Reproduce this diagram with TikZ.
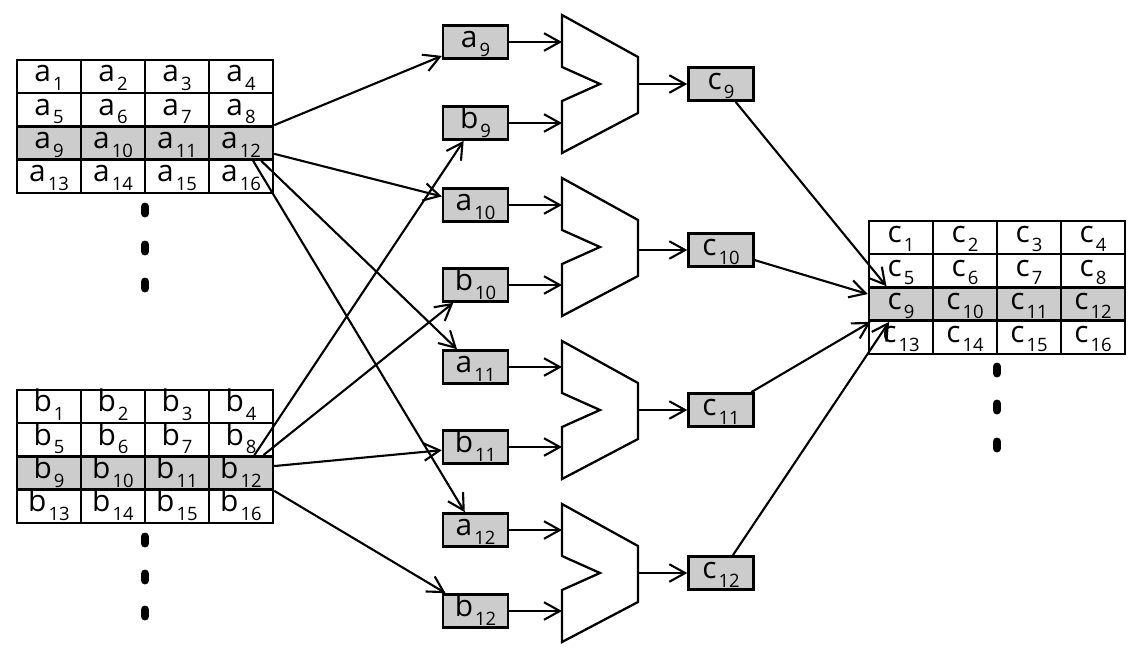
\documentclass[tikz,border=0pt]{standalone}
\usepackage{fontspec}
\setmainfont{Open Sans}
\usepackage{tikz}
\usetikzlibrary{arrows.meta}
\definecolor{cellgray}{RGB}{204,204,204}
\newcommand{\idx}[2]{#1\kern1.2pt\raisebox{-5pt}{\fontsize{10.5}{10.5}\selectfont #2}}

\begin{document}
\begin{tikzpicture}[
            x=0.02cm, y=-0.02cm,
            cell/.style={rectangle, draw=black, line width=1.4pt, minimum width=1.28cm,
                         minimum height=0.665cm, inner sep=0pt, text height=11pt, text depth=5pt,
                         font=\fontsize{17}{17}\selectfont},
            reg/.style={cell, fill=cellgray, minimum width=1.3cm},
            arrow/.style={-{Straight Barb[length=9pt,width=10pt]}, line width=1.2pt},
            mux/.style={draw=black, line width=1.3pt, fill=white, line join=miter},
            vdots/.style={line width=4.5pt, line cap=round}
        ]
            \useasboundingbox (0,0) rectangle (1142,660);

            % matrices A, B, C
            \foreach \m/\x/\y in {a/49/76.5, b/49/406.5, c/901/237.5}{
                \foreach \r/\shade in {0/white, 1/white, 2/cellgray, 3/white}{
                    \foreach \c in {1,...,4}{
                        \pgfmathtruncatemacro{\n}{4*\r+\c}
                        \node[cell, fill=\shade] (m\m\n) at ({\x+64*(\c-1)}, {\y+33.25*\r}) {\idx{\m}{\n}};
                    }
                }
            }

            % continuation marks
            \foreach \y in {210,248,285} \draw[vdots] (145,{\y-3.5}) -- (145,{\y+3.5});
            \foreach \y in {540,577,613} \draw[vdots] (145,{\y-3.5}) -- (145,{\y+3.5});
            \foreach \y in {370,407,445} \draw[vdots] (997,{\y-3.5}) -- (997,{\y+3.5});

            % operand registers
            \node[reg] (ra9) at (475.5,42) {\idx{a}{9}};
            \node[reg] (rb9) at (475.5,123) {\idx{b}{9}};
            \node[reg] (ra10) at (475.5,205) {\idx{a}{10}};
            \node[reg] (rb10) at (475.5,285) {\idx{b}{10}};
            \node[reg] (ra11) at (475.5,367) {\idx{a}{11}};
            \node[reg] (rb11) at (475.5,447) {\idx{b}{11}};
            \node[reg] (ra12) at (475.5,530) {\idx{a}{12}};
            \node[reg] (rb12) at (475.5,611) {\idx{b}{12}};

            % result registers
            \node[reg] (rc9) at (721,84) {\idx{c}{9}};
            \node[reg] (rc10) at (721,250) {\idx{c}{10}};
            \node[reg] (rc11) at (721,410) {\idx{c}{11}};
            \node[reg] (rc12) at (721,573) {\idx{c}{12}};

            % adders
            \coordinate (mux9) at (562,84);
            \coordinate (mux10) at (562,247);
            \coordinate (mux11) at (562,410);
            \coordinate (mux12) at (562,573);
            \coordinate (out9) at (638,84);
            \coordinate (out10) at (638,250);
            \coordinate (out11) at (638,410);
            \coordinate (out12) at (638,573);
            \foreach \k in {9,10,11,12}{
                \draw[mux] (mux\k) ++(0,-69) -- ++(76,42) -- ++(0,56) -- ++(-76,40)
                    -- ++(0,-52) -- ++(38,-17) -- ++(-38,-17) -- cycle;
            }

            % loads from A
            \draw[arrow] (ma12.north east) -- (ra9);
            \draw[arrow] ([yshift=4pt]ma12.south east) -- (ra10);
            \draw[arrow] ([xshift=-7.4pt]ma12.south east) -- (ra11);
            \draw[arrow] ([xshift=-12pt]ma12.south east) -- (ra12);

            % loads from B
            \draw[arrow] ([xshift=-11.3pt]mb12.north east) -- (rb9);
            \draw[arrow] ([xshift=-6.2pt]mb12.north east) -- (rb10);
            \draw[arrow] ([yshift=-6.2pt]mb12.north east) -- (rb11);
            \draw[arrow] (mb12.south east) -- (rb12);

            % into the adders
            \draw[arrow] (ra9) -- (ra9 -| mux9);
            \draw[arrow] (rb9) -- (rb9 -| mux9);
            \draw[arrow] (ra10) -- (ra10 -| mux10);
            \draw[arrow] (rb10) -- (rb10 -| mux10);
            \draw[arrow] (ra11) -- (ra11 -| mux11);
            \draw[arrow] (rb11) -- (rb11 -| mux11);
            \draw[arrow] (ra12) -- (ra12 -| mux12);
            \draw[arrow] (rb12) -- (rb12 -| mux12);

            % sums
            \draw[arrow] (out9) -- (rc9);
            \draw[arrow] (out10) -- (rc10);
            \draw[arrow] (out11) -- (rc11);
            \draw[arrow] (out12) -- (rc12);

            % stores into C
            \draw[arrow] (rc9) -- (mc9);
            \draw[arrow] (rc10) -- (mc9);
            \draw[arrow] (rc11) -- (mc9);
            \draw[arrow] (rc12) -- (mc9);
        \end{tikzpicture}
\end{document}
